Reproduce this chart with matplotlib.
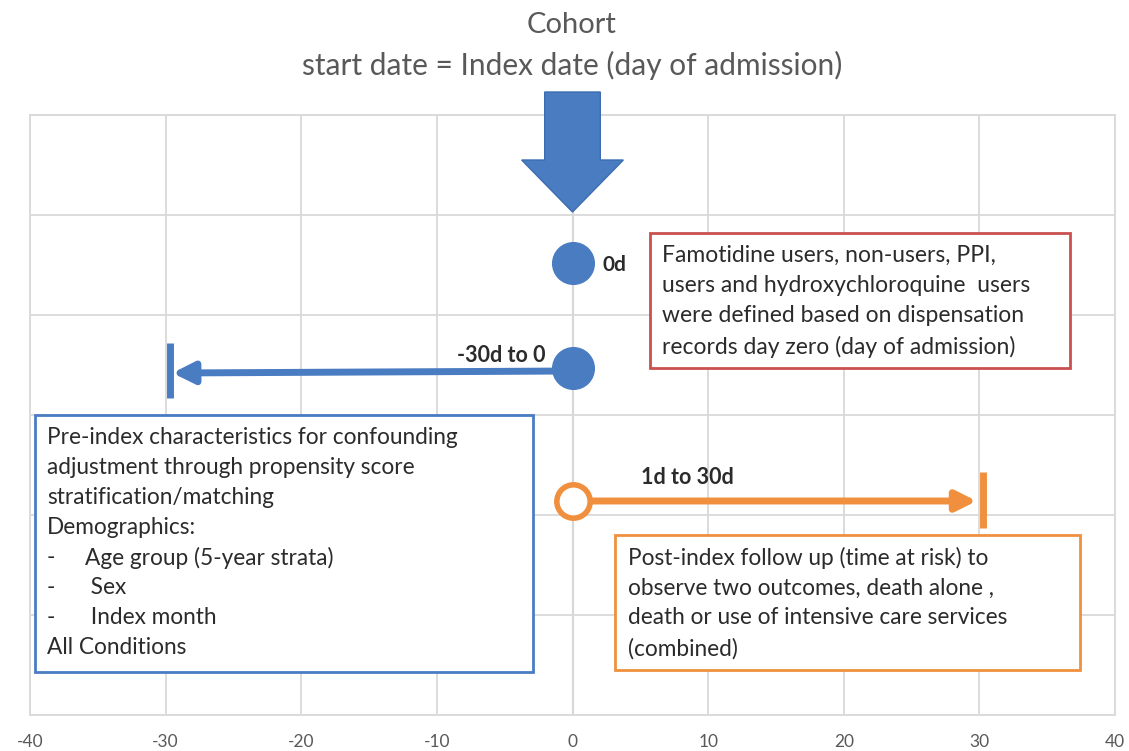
import matplotlib.pyplot as plt
from matplotlib.patches import Rectangle, Polygon

# timeline data (days relative to index date)
x_ticks = [-40, -30, -20, -10, 0, 10, 20, 30, 40]
index_day = 0
lookback = [0, -30]
followup = [0, 30]

title_lines = ['Cohort', 'start date = Index date (day of admission)']
label_index = '0d'
label_lookback = '-30d to 0'
label_followup = '1d to 30d'

exposure_text = ['Famotidine users, non-users, PPI,',
                 'users and hydroxychloroquine  users',
                 'were defined based on dispensation',
                 'records day zero (day of admission)']
baseline_text = ['Pre-index characteristics for confounding',
                 'adjustment through propensity score',
                 'stratification/matching',
                 'Demographics:',
                 ('-', 'Age group (5-year strata)'),
                 ('-', ' Sex'),
                 ('-', ' Index month'),
                 'All Conditions']
outcome_text = ['Post-index follow up (time at risk) to',
                'observe two outcomes, death alone ,',
                'death or use of intensive care services',
                '(combined)']

blue = '#4a7cc2'
orange = '#f0903e'
red = '#c9504e'
txt = '#2b2b2b'
grid = '#d9d9d9'

plt.rcParams['font.family'] = ['Lato', 'DejaVu Sans']
plt.rcParams['axes.unicode_minus'] = False

fig = plt.figure(figsize=(11.29, 7.51), dpi=100)
ax = fig.add_axes([30/1129, 36/751, 1085/1129, 600/751])
ax.set_xlim(-40, 40)
ax.set_ylim(0, 6)
ax.set_xticks(x_ticks)
ax.set_yticks(range(0, 7))
ax.set_yticklabels([])
ax.tick_params(length=0, labelsize=12.5, labelcolor='#595959', pad=14)
ax.grid(True, color=grid, linewidth=1.3)
ax.set_axisbelow(True)
for s in ax.spines.values():
    s.set_color(grid)
    s.set_linewidth(1.3)
ax.axvline(0, color='#c8c8c8', linewidth=1.5, zorder=0)

# titles
fig.text(572/1129, 1 - 25/751, title_lines[0], ha='center', va='center',
         fontsize=21, color='#595959')
fig.text(572/1129, 1 - 65/751, title_lines[1], ha='center', va='center',
         fontsize=21.5, color='#595959')

# big down arrow at index date
sw, hw = 2.05, 3.75
arrow = Polygon([(index_day - sw, 6.23), (index_day + sw, 6.23), (index_day + sw, 5.55),
                 (index_day + hw, 5.55), (index_day, 5.03), (index_day - hw, 5.55),
                 (index_day - sw, 5.55)], closed=True, facecolor=blue,
                edgecolor='#3d6db0', linewidth=1, clip_on=False, zorder=5)
ax.add_patch(arrow)

# index date point
ax.plot([index_day], [4.52], 'o', color=blue, markersize=30, zorder=5)
ax.text(index_day + 3.1, 4.5, label_index, fontsize=15, color=txt,
        fontweight='bold', va='center', ha='center')

# look-back window
ax.annotate('', xy=(lookback[1] + 0.5, 3.42), xytext=(lookback[0], 3.44),
            arrowprops=dict(arrowstyle='-|>', color=blue, lw=5,
                            mutation_scale=32, shrinkA=0, shrinkB=0), zorder=4)
ax.plot([lookback[1] + 0.3, lookback[1] + 0.3], [3.17, 3.72], color=blue, lw=5,
        solid_capstyle='butt', zorder=4)
ax.plot([lookback[0]], [3.47], 'o', color=blue, markersize=30, zorder=5)
ax.text(lookback[0] - 2.0, 3.6, label_lookback, fontsize=15.5, color=txt,
        fontweight='bold', ha='right', va='center')

# follow-up window
ax.annotate('', xy=(followup[1] - 0.2, 2.14), xytext=(followup[0], 2.14),
            arrowprops=dict(arrowstyle='-|>', color=orange, lw=5,
                            mutation_scale=30, shrinkA=0, shrinkB=0), zorder=4)
ax.plot([followup[1] + 0.3, followup[1] + 0.3], [1.87, 2.43], color=orange, lw=5,
        solid_capstyle='butt', zorder=4)
ax.plot([followup[0]], [2.14], 'o', markerfacecolor='white', markeredgecolor=orange,
        markeredgewidth=4, markersize=24, zorder=5)
ax.text(8.5, 2.37, label_followup, fontsize=15.5, color=txt,
        fontweight='bold', ha='center', va='center')


def px(x):
    return (x - 30) / 1085 * 80 - 40


def py(y):
    return (715 - y) / 100


def text_box(x0, y0, x1, y1, edge, lines, tx, ys, size):
    ax.add_patch(Rectangle((px(x0), py(y1)), px(x1) - px(x0), py(y0) - py(y1),
                           facecolor='white', edgecolor=edge, linewidth=2,
                           zorder=6, clip_on=False))
    for line, yy in zip(lines, ys):
        if isinstance(line, tuple):
            ax.text(px(tx), py(yy), line[0], fontsize=size, color=txt,
                    va='center', ha='left', zorder=7)
            ax.text(px(tx + 38), py(yy), line[1], fontsize=size, color=txt,
                    va='center', ha='left', zorder=7)
        else:
            ax.text(px(tx), py(yy), line, fontsize=size, color=txt,
                    va='center', ha='left', zorder=7)


text_box(650, 233, 1070, 368, red, exposure_text, 662, [255, 286, 316, 347], 16.5)
text_box(35, 415, 533, 672, blue, baseline_text, 47,
         [438, 468, 498, 528, 558, 588, 618, 648], 16.3)
text_box(615, 535, 1080, 670, orange, outcome_text, 628, [558, 588, 618, 649], 16.3)

fig.savefig('out.png', dpi=100)
